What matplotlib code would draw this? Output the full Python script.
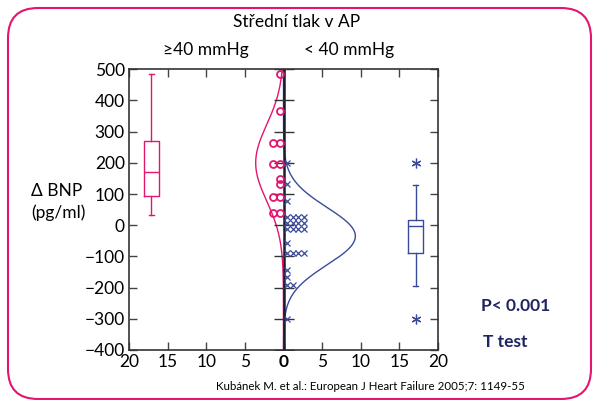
import numpy as np
import matplotlib.pyplot as plt
from matplotlib.patches import FancyBboxPatch
from matplotlib.transforms import IdentityTransform

plt.rcParams['font.family'] = ['Lato', 'DejaVu Sans']

# data
# >=40 mmHg group (left side, pink circles)
hi_values = [485, 367, 265, 265, 197, 197, 147, 131, 92, 92, 40, 40]
# <40 mmHg group (right side, blue crosses)
lo_values = [200, 131, 79, 28, 28, 28, 28, 8, 8, 8, 8, -12, -12, -12, -12,
             -58, -90, -90, -90, -90, -145, -165, -192, -192, -300]

# box plot stats
hi_box = dict(med=170, q1=94, q3=269, whislo=33, whishi=484, fliers=[])
lo_box = dict(med=-3, q1=-88, q3=17, whislo=-194, whishi=128, fliers=[200, -300])

# fitted normal curves: mean, sd, peak height (count units)
hi_curve = (200, 122, 3.6)
lo_curve = (-35, 92, 9.3)

xticks = [-20, -15, -10, -5, 0, 5, 10, 15, 20]
yticks = [500, 400, 300, 200, 100, 0, -100, -200, -300, -400]

PINK = '#e2156f'
BLUE = '#3b4b9b'
NAVY = '#1f2460'

W, H = 594, 400
fig = plt.figure(figsize=(W / 100, H / 100), dpi=100)
ax = fig.add_axes([129 / W, 1 - 350 / H, 309 / W, 280.7 / H])


def dot_offsets(values, step, first):
    # stack repeated values side by side like a dot histogram
    seen = {}
    out = []
    for v in values:
        k = seen.get(v, 0)
        out.append(first + k * step)
        seen[v] = k + 1
    return np.array(out)


hx = -dot_offsets(hi_values, 0.8, 0.5)
ax.plot(hx, hi_values, 'o', mfc='none', mec=PINK, ms=5, mew=1.3, zorder=4)

lx = dot_offsets(lo_values, 0.72, 0.45)
ax.plot(lx, lo_values, 'x', color=BLUE, ms=4.2, mew=0.9, zorder=4)

yy = np.linspace(-400, 500, 400)
m, s, pk = hi_curve
ax.plot(-pk * np.exp(-(yy - m) ** 2 / (2 * s ** 2)), yy, color=PINK, lw=1)
m, s, pk = lo_curve
ax.plot(pk * np.exp(-(yy - m) ** 2 / (2 * s ** 2)), yy, color=BLUE, lw=1)

for stats, pos, col in [(hi_box, -17.1, PINK), (lo_box, 17.1, BLUE)]:
    ax.bxp([stats], positions=[pos], widths=2.0, showfliers=True,
           boxprops=dict(color=col, lw=1),
           medianprops=dict(color=col, lw=1),
           whiskerprops=dict(color=col, lw=1),
           capprops=dict(color=col, lw=1),
           capwidths=0.6,
           flierprops=dict(marker=(6, 2, 0), markeredgecolor=col,
                           markersize=7, mew=0.9))

# central axis line with crossing ticks
ax.axvline(0, color='#1a1a33', lw=1.8, zorder=3)
ax.plot(np.zeros(len(yticks)), yticks, '_', color='#333333', ms=14, mew=1,
        zorder=3)

ax.set_xlim(-20, 20)
ax.set_ylim(-400, 500)
ax.set_xticks(xticks)
ax.set_xticklabels([str(abs(t)) for t in xticks])
ax.get_xticklabels()[4].set_fontweight('bold')
ax.set_yticks(yticks)
ax.tick_params(direction='in', length=6, width=1, color='#444444',
               top=True, right=True, labelsize=12.5, pad=3)
for sp in ax.spines.values():
    sp.set_linewidth(1.2)
    sp.set_color('#333333')

fig.text(297 / W, 1 - 22 / H, 'Střední tlak v AP', ha='center', va='center',
         fontsize=12.5)
fig.text(206 / W, 1 - 50 / H, '≥40 mmHg', ha='center', va='center',
         fontsize=12.5)
fig.text(349 / W, 1 - 50 / H, '< 40 mmHg', ha='center', va='center',
         fontsize=12.5)
fig.text(31 / W, 1 - 191 / H, 'Δ BNP', ha='left', va='center', fontsize=12.5)
fig.text(31 / W, 1 - 213 / H, '(pg/ml)', ha='left', va='center',
         fontsize=12.5)
fig.text(481 / W, 1 - 306 / H, 'P< 0.001', ha='left', va='center',
         fontsize=12.5, fontweight='bold', color=NAVY)
fig.text(483 / W, 1 - 342 / H, 'T test', ha='left', va='center',
         fontsize=12.5, fontweight='bold', color=NAVY)
fig.text(216 / W, 1 - 387 / H,
         'Kubánek M. et al.: European J Heart Failure 2005;7: 1149-55',
         ha='left', va='center', fontsize=8.3)

# rounded frame, in pixels
frame = FancyBboxPatch((8, 1), 583, 391,
                       boxstyle='round,pad=0,rounding_size=30',
                       transform=IdentityTransform(), fill=False,
                       edgecolor=PINK, lw=1.5)
fig.patches.append(frame)

fig.savefig('out.png', dpi=100)
